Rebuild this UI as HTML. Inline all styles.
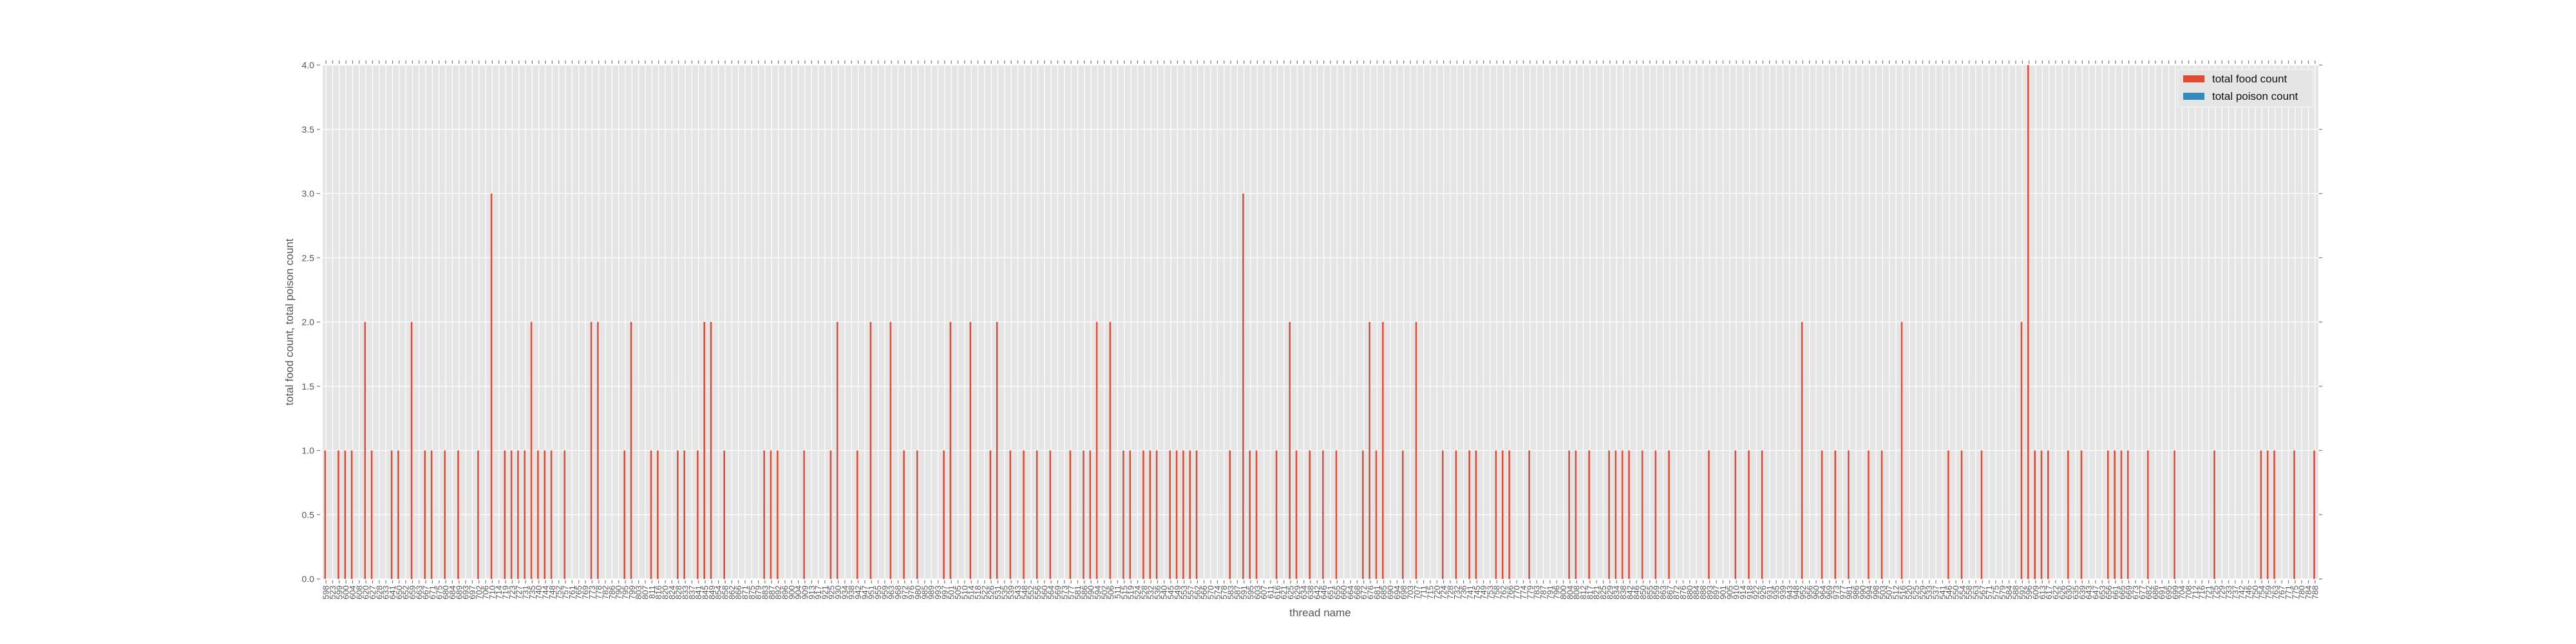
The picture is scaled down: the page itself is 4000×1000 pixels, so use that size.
<!DOCTYPE html>
<html><head><meta charset="utf-8">
<style>
html,body{margin:0;padding:0;background:#fff;}
svg{display:block;font-family:"Liberation Sans","DejaVu Sans",sans-serif;}
</style></head>
<body>
<svg id="chart" width="4000" height="1000" xmlns="http://www.w3.org/2000/svg">
<rect x="501" y="101" width="3099" height="798" fill="#e5e5e5"/>
<g id="grid"></g>
<g id="bars"></g>
<g id="axes"></g>
<text transform="translate(455,500) rotate(-90)" text-anchor="middle" font-size="17" fill="#555">total food count, total poison count</text>
<text x="2050" y="957" text-anchor="middle" font-size="17" fill="#555">thread name</text>
<g>
<rect x="3382" y="108" width="210" height="58" fill="#e5e5e5" stroke="#f2f2f2" stroke-width="1.5"/>
<g>
<rect x="3390" y="117" width="33" height="11" fill="#E24A33"/>
<text x="3435" y="128" font-size="17" fill="#111">total food count</text>
</g>
<g>
<rect x="3390" y="144" width="33" height="11" fill="#348ABD"/>
<text x="3435" y="155" font-size="17" fill="#111">total poison count</text>
</g>
</g>
</svg>
<script>
const foodCounts = [
1,0,1,1,1,0,2,1,0,0, 1,1,0,2,0,1,1,0,1,0, 1,0,0,1,0,3,0,1,1,1, 1,2,1,1,1,0,1,0,0,0,
2,2,0,0,0,1,2,0,0,1, 1,0,0,1,1,0,1,2,2,0, 1,0,0,0,0,0,1,1,1,0, 0,0,1,0,0,0,1,2,0,0,
1,0,2,0,0,2,0,1,0,1, 0,0,0,1,2,0,0,2,0,0, 1,2,0,1,0,1,0,1,0,1, 0,0,1,0,1,1,2,0,2,0,
1,1,0,1,1,1,0,1,1,1, 1,1,0,0,0,0,1,0,3,1, 1,0,0,1,0,2,1,0,1,0, 1,0,1,0,0,0,1,2,1,2,
0,0,1,0,2,0,0,0,1,0, 1,0,1,1,0,0,1,1,1,0, 0,1,0,0,0,0,0,1,1,0, 1,0,0,1,1,1,1,0,1,0,
1,0,1,0,0,0,0,0,1,0, 0,0,1,0,1,0,1,0,0,0, 0,0,2,0,0,1,0,1,0,1, 0,0,1,0,1,0,0,2,0,0,
0,0,0,0,1,0,1,0,0,1, 0,0,0,0,0,2,4,1,1,1, 0,0,1,0,1,0,0,0,1,1, 1,1,0,0,1,0,0,0,1,0,
0,0,0,0,1,0,0,0,0,0, 0,1,1,1,0,0,1,0,0,1
];
const poisonCounts = new Array(300).fill(0);
const yTickValues = [0,0.5,1,1.5,2,2.5,3,3.5,4];
const yTickLabels = ["0.0","0.5","1.0","1.5","2.0","2.5","3.0","3.5","4.0"];
const threadNames = ("598 523 599 600 604 608 620 627 628 633 641 650 652 659 663 667 671 675 680 684 " +
"689 693 697 702 706 710 714 719 723 727 731 735 740 744 748 752 757 761 765 769 " +
"773 778 782 786 790 795 799 803 807 811 816 820 824 828 833 837 841 845 849 854 " +
"858 862 866 871 875 879 883 887 892 896 900 904 909 913 917 921 925 930 934 938 " +
"942 947 951 955 959 963 968 972 976 980 985 989 993 997 501 505 510 514 518 522 " +
"526 531 535 539 543 548 552 556 560 564 569 573 577 581 586 590 594 502 506 511 " +
"515 519 524 528 532 536 540 545 549 553 557 562 566 570 574 578 583 587 591 595 " +
"603 607 611 616 621 625 629 634 638 642 646 651 655 660 664 668 672 676 681 685 " +
"690 694 698 703 707 711 715 720 724 728 732 736 741 745 749 753 758 762 766 770 " +
"774 779 783 787 791 796 800 804 808 812 817 821 825 829 834 838 842 846 850 855 " +
"859 863 867 872 876 880 884 888 893 897 901 905 910 914 918 922 926 931 935 939 " +
"943 948 952 956 960 964 969 973 977 981 986 990 994 998 503 507 512 516 520 525 " +
"529 533 537 541 546 550 554 558 563 567 571 575 579 584 588 592 596 609 613 617 " +
"622 626 630 635 639 643 647 653 656 661 665 669 673 677 682 686 691 695 699 704 " +
"708 712 716 721 725 729 733 737 742 746 750 754 759 763 767 771 775 780 784 788").split(" ");

const NS = "http://www.w3.org/2000/svg";
const L = 501, R = 3600, T = 101, B = 899, YMAX = 4;
const n = foodCounts.length;
const step = (R - L) / n;
function xCenter(i){ return L + (i + 0.5) * step; }
function yPos(v){ return B - (v / YMAX) * (B - T); }
function mk(tag, attrs, parent){
  const e = document.createElementNS(NS, tag);
  for (const k in attrs) e.setAttribute(k, attrs[k]);
  parent.appendChild(e);
  return e;
}
const grid = document.getElementById("grid");
const bars = document.getElementById("bars");
const axes = document.getElementById("axes");

for (let i = 0; i < n; i++) {
  const x = xCenter(i);
  const g = mk("line", {x1:x, x2:x, y1:T, y2:B, stroke:"#fff", "stroke-width":1.2}, grid);
  
  
}
for (let j = 0; j < yTickValues.length; j++) {
  const y = yPos(yTickValues[j]);
  const g = mk("line", {x1:L, x2:R, y1:y, y2:y, stroke:"#fff", "stroke-width":1.2}, grid);
  
  
  const t1 = mk("line", {x1:L-9, x2:L-4, y1:y, y2:y, stroke:"#777", "stroke-width":1.2}, axes);
  
  
  const t2 = mk("line", {x1:R+1, x2:R+6, y1:y, y2:y, stroke:"#777", "stroke-width":1.2}, axes);
  
  
  const lb = mk("text", {x:L-13, y:y+5, "text-anchor":"end", "font-size":14, fill:"#555"}, axes);
  lb.textContent = yTickLabels[j];
  
  
}
const bw = step * 0.25;
for (let i = 0; i < n; i++) {
  const x = xCenter(i);
  if (foodCounts[i] > 0) {
    const r = mk("rect", {x:x - bw, y:yPos(foodCounts[i]), width:bw, height:B - yPos(foodCounts[i]), fill:"#E24A33"}, bars);
    
    
  }
  if (poisonCounts[i] > 0) {
    const r = mk("rect", {x:x, y:yPos(poisonCounts[i]), width:bw, height:B - yPos(poisonCounts[i]), fill:"#348ABD"}, bars);
    
    
  }
  const tb = mk("line", {x1:x, x2:x, y1:B+2, y2:B+7, stroke:"#777", "stroke-width":1.2}, axes);
  
  
  const tt = mk("line", {x1:x, x2:x, y1:T-7, y2:T-2, stroke:"#777", "stroke-width":1.2}, axes);
  
  
  const lb = mk("text", {transform:"translate(" + (x + 4.5) + "," + (B + 10) + ") rotate(-90)", "text-anchor":"end", "font-size":13, fill:"#555"}, axes);
  lb.textContent = threadNames[i];
  
  
}
</script>
</body></html>
